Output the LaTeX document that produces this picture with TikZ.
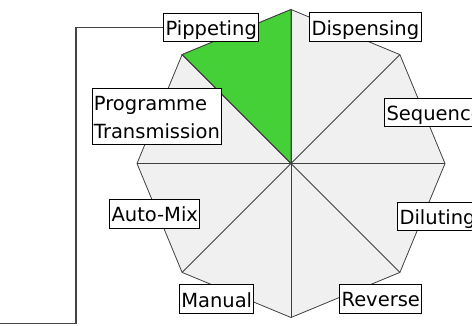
\documentclass[tikz,border=0pt]{standalone}
\usepackage{fontspec}
\setmainfont{DejaVu Sans}
\usetikzlibrary{calc}
\definecolor{octfill}{HTML}{F0F0F0}
\definecolor{octline}{HTML}{404040}
\definecolor{sectgreen}{RGB}{70,208,55}
\definecolor{connline}{HTML}{444444}
\newcommand{\lblstrut}{\rule[-5.7bp]{0pt}{27.5bp}}
\begin{document}
\begin{tikzpicture}[x=1bp,y=-1bp,
  lbl/.style={draw=black, fill=white, line width=0.9bp, inner xsep=1.8bp, inner ysep=0.4bp,
    font=\fontsize{19.5bp}{28.3bp}\selectfont, align=left},
  spoke/.style={draw=octline, line width=0.8bp},
  conn/.style={draw=connline, line width=1.2bp}]
\useasboundingbox (0,0) rectangle (472,325);
\coordinate (c) at (291,163.5);
\foreach \i/\a in {0/90,1/135,2/180,3/225,4/270,5/315,6/0,7/45}{
  \coordinate (v\i) at ($(c)+({154*cos(\a)},{-154*sin(\a)})$);
}
% octagon
\filldraw[fill=octfill, spoke] (v0)--(v1)--(v2)--(v3)--(v4)--(v5)--(v6)--(v7)--cycle;
% green sector
\filldraw[fill=sectgreen, spoke] (c)--(v0)--(v1)--cycle;
% spokes
\foreach \i in {0,...,7}{ \draw[spoke] (c)--(v\i); }
% labels
\node[lbl, anchor=west] (pip) at (163.3,27.2) {\lblstrut Pippeting};
\node[lbl, anchor=west] (dis) at (309.3,27.0) {\lblstrut Dispensing};
\node[lbl, anchor=west] (seq) at (384.3,112.5) {\lblstrut Sequence};
\node[lbl, anchor=west] (dil) at (397.3,216.3) {\lblstrut Diluting};
\node[lbl, anchor=west] (rev) at (339.3,298.8) {\lblstrut Reverse};
\node[lbl, anchor=west] (man) at (179.0,299.0) {\lblstrut Manual};
\node[lbl, anchor=west] (amx) at (109.3,213.8) {\lblstrut Auto-Mix};
\node[lbl, anchor=north west] (prg) at (91.7,87.7) {\lblstrut Programme\\\lblstrut Transmission};
% connector
\coordinate (k1) at (76,323.5);
\coordinate (off) at (-10,323.5);
\draw[conn] (pip.west) -| (k1) -- (off);
\end{tikzpicture}
\end{document}
